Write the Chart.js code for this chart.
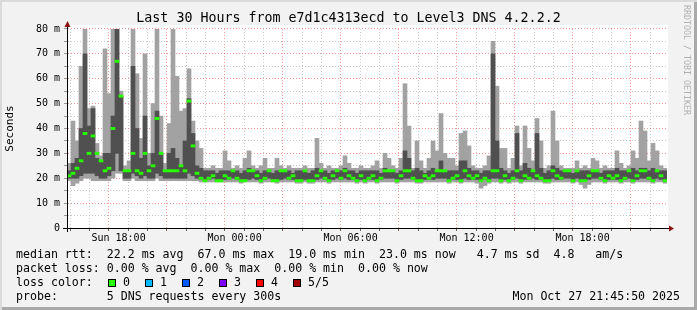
<!DOCTYPE html>
<html>
<head>
<meta charset="utf-8">
<script src="https://cdn.jsdelivr.net/npm/chart.js@4.4.1/dist/chart.umd.min.js"></script>
<style>
  html, body { margin: 0; padding: 0; background: #f2f2f2; }
  #frame {
    position: relative; width: 697px; height: 310px; overflow: hidden;
    background: #f2f2f2;
    box-shadow: inset 2px 2px 0 #dadada, inset -3px -3px 0 #a9a9a9;
    font-family: 'DejaVu Sans Mono', monospace; color: #000;
  }
  canvas { position: absolute; left: 0; top: 0; }
  .row { position: absolute; left: 16px; font-size: 11.6px; line-height: 14px; white-space: pre; }
  .box { position: absolute; top: 279px; width: 8px; height: 8px; box-sizing: border-box; border: 1px solid #000; }
  .lbl { position: absolute; top: 275px; font-size: 11.6px; line-height: 14px; white-space: pre; }
  #stamp { position: absolute; right: 17px; top: 289px; font-size: 11.6px; line-height: 14px; white-space: pre; }
  #mark { position: absolute; left: 682px; top: 5px; font-size: 8.3px; line-height: 10px; color: #b0b0b0;
          writing-mode: vertical-rl; white-space: pre; }
</style>
</head>
<body>
<div id="frame">
  <canvas id="chart" width="697" height="310"></canvas>
  <div id="mark">RRDTOOL / TOBI OETIKER</div>
  <div class="row" style="top:247px">median rtt:  22.2 ms avg  67.0 ms max  19.0 ms min  23.0 ms now   4.7 ms sd  4.8   am/s</div>
  <div class="row" style="top:261px">packet loss: 0.00 % avg  0.00 % max  0.00 % min  0.00 % now</div>
  <div class="row" style="top:275px">loss color:</div>
  <div class="row" style="top:289px">probe:       5 DNS requests every 300s</div>
  <div id="stamp">Mon Oct 27 21:45:50 2025</div>
</div>
<script>
// 12-minute slots over the last 30 hours (Sun 15:51 -> Mon 21:51), values in ms
const highPing = [
  26, 43, 35, 65, 80, 48, 49, 34, 29, 72,
  54, 80, 80, 55, 25, 27, 80, 62, 36, 70,
  30, 50, 80, 45, 26, 42, 80, 61, 47, 48,
  64, 43, 35, 32, 24, 24, 25, 24, 24, 31,
  27, 24, 25, 24, 28, 31, 25, 24, 25, 28,
  24, 24, 28, 25, 24, 25, 24, 24, 24, 25,
  24, 24, 36, 26, 24, 25, 24, 24, 25, 29,
  26, 24, 24, 25, 24, 24, 25, 27, 24, 30,
  28, 25, 24, 28, 58, 41, 24, 35, 27, 24,
  28, 35, 31, 46, 30, 28, 28, 25, 38, 39,
  33, 25, 24, 24, 25, 29, 75, 57, 32, 32,
  24, 28, 41, 25, 41, 32, 27, 44, 35, 24,
  25, 47, 35, 25, 24, 24, 24, 27, 24, 25,
  24, 28, 27, 24, 25, 24, 24, 31, 26, 24,
  25, 31, 28, 43, 39, 27, 34, 31, 25, 24
];
const highMid = [
  23, 26, 28, 40, 70, 41, 48, 28, 27, 30,
  30, 45, 80, 53, 23, 23, 65, 40, 28, 45,
  25, 30, 47, 30, 23, 30, 32, 28, 25, 35,
  52, 38, 25, 24, 23, 23, 23, 22, 23, 23,
  23, 23, 23, 22, 23, 24, 23, 23, 22, 23,
  23, 22, 23, 23, 23, 23, 22, 23, 23, 23,
  22, 23, 24, 23, 23, 22, 23, 23, 23, 24,
  23, 23, 22, 23, 23, 23, 23, 23, 22, 24,
  23, 23, 22, 23, 31, 28, 23, 24, 23, 22,
  23, 24, 23, 27, 23, 23, 23, 23, 27, 27,
  24, 23, 23, 22, 23, 23, 70, 35, 24, 23,
  22, 23, 38, 23, 26, 24, 23, 38, 24, 22,
  23, 25, 24, 23, 23, 23, 22, 23, 23, 23,
  23, 23, 23, 22, 23, 23, 23, 24, 23, 23,
  23, 24, 23, 24, 24, 23, 24, 23, 23, 23
];
const lowMid = [
  20, 20, 20, 21, 22, 22, 22, 21, 20, 20,
  21, 23, 30, 23, 20, 20, 22, 21, 20, 21,
  20, 20, 22, 21, 20, 20, 20, 20, 20, 20,
  22, 21, 20, 19.5, 19.5, 19.5, 20, 19.5, 19.5, 19.5,
  19.5, 20, 19.5, 19, 19.5, 19.5, 20, 19.5, 19, 19.5,
  20, 19.5, 19, 19.5, 20, 19.5, 19.5, 19, 19, 19.5,
  19, 19, 19.5, 20, 19.5, 19, 19.5, 20, 19.5, 20,
  19.5, 19.5, 19, 19.5, 19, 19.5, 19.5, 19, 19.5, 20,
  20, 20, 19, 19.5, 20, 20, 19.5, 19, 19, 19.5,
  19.5, 19.5, 20, 20, 20, 19, 19.5, 19.5, 19, 20,
  19.5, 19.5, 19.5, 19, 19.5, 19, 20, 20, 19, 19.5,
  19, 19.5, 20, 19, 19.5, 19.5, 20, 19.5, 19.5, 19,
  19, 20, 19.5, 19.5, 20, 20, 19, 20, 19, 19,
  19.5, 20, 20, 19.5, 19, 19.5, 19.5, 19.5, 19, 19.5,
  20, 19, 19.5, 20, 20, 19.5, 19, 20, 19.5, 19
];
const lowPing = [
  19, 17, 18, 19, 20, 20, 19, 19, 19, 19,
  19, 20, 22, 22, 19, 19, 20, 19, 19, 19,
  19, 19, 20, 19, 19, 19, 19, 19, 19, 19,
  19, 19, 19, 18.5, 18.5, 18.5, 18.5, 18.5, 18.5, 18.5,
  18.5, 18.5, 18.5, 18, 18.5, 18.5, 18.5, 18.5, 18, 18.5,
  18.5, 18.5, 18, 18.5, 18.5, 18.5, 18.5, 18, 18, 18.5,
  18, 18, 18.5, 18.5, 18.5, 18, 18.5, 18.5, 18.5, 18.5,
  18.5, 18.5, 18, 18.5, 18, 18.5, 18.5, 18, 18.5, 18.5,
  18.5, 18.5, 18, 18.5, 18.5, 18.5, 18.5, 18, 18, 18.5,
  18.5, 18.5, 18.5, 18.5, 18.5, 18, 18.5, 18.5, 18, 18.5,
  18.5, 18.5, 18, 16, 17, 18, 18.5, 18.5, 18, 18.5,
  18, 18.5, 18.5, 18, 18.5, 18.5, 18.5, 18.5, 18.5, 18,
  18, 18.5, 18.5, 18.5, 18.5, 18.5, 18, 18.5, 17.5, 16,
  17.5, 18.5, 18.5, 18.5, 18, 18.5, 18.5, 18.5, 18, 18.5,
  18.5, 18, 18.5, 18.5, 18.5, 18.5, 18, 18.5, 18.5, 18
];
const medianRtt = [
  21, 22, 24, 27, 38, 30, 37, 30, 27, 23,
  24, 40, 67, 53, 23, 23, 30, 23, 22, 30,
  23, 25, 44, 30, 23, 23, 23, 23, 25, 23,
  51, 33, 22, 20, 19, 20, 21, 19, 19, 21,
  20, 23, 20, 19, 19, 23, 23, 21, 19, 20,
  23, 19, 19, 23, 23, 20, 21, 19, 19, 23,
  19, 19, 21, 23, 20, 19, 21, 23, 20, 23,
  21, 20, 19, 21, 19, 20, 21, 19, 20, 23,
  23, 23, 19, 21, 23, 23, 20, 19, 19, 21,
  20, 21, 23, 23, 23, 19, 20, 21, 19, 23,
  21, 20, 21, 19, 20, 19, 23, 23, 19, 21,
  19, 20, 23, 19, 21, 20, 23, 21, 20, 19,
  19, 23, 21, 20, 23, 23, 19, 23, 19, 19,
  21, 23, 23, 20, 19, 21, 20, 21, 19, 20,
  23, 19, 21, 23, 23, 20, 19, 23, 21, 19
];
// time axis in hours since Sun 00:00
const timeStart = 15.85;
const timeEnd = 45.85;
const tickHours = [18, 24, 30, 36, 42];
const tickLabels = ['Sun 18:00', 'Mon 00:00', 'Mon 06:00', 'Mon 12:00', 'Mon 18:00'];
const lossLabels = ['0', '1', '2', '3', '4', '5/5'];
const lossColors = ['#26ff00', '#00b8ff', '#0059ff', '#7e00ff', '#ff0000', '#a10000'];

const slots = highPing.map((_, i) => i);
const majorGrid = 'rgba(240,120,120,0.75)';
const minorGrid = '#c8c8c8';

// loss colour legend
const frame = document.getElementById('frame');
lossLabels.forEach((t, i) => {
  const b = document.createElement('div');
  b.className = 'box';
  b.style.left = (108 + 37 * i) + 'px';
  b.style.background = lossColors[i];
  frame.appendChild(b);
  const l = document.createElement('div');
  l.className = 'lbl';
  l.style.left = (123 + 37 * i) + 'px';
  l.textContent = t;
  frame.appendChild(l);
});

const plotBackground = {
  id: 'plotBackground',
  beforeDraw(chart) {
    const { ctx, chartArea: a } = chart;
    ctx.save();
    ctx.fillStyle = '#fff';
    ctx.fillRect(a.left, a.top - 4, a.right - a.left + 1, a.bottom - a.top + 4);
    ctx.restore();
  }
};

const axisArrows = {
  id: 'axisArrows',
  afterDraw(chart) {
    const { ctx, chartArea: a } = chart;
    ctx.save();
    ctx.strokeStyle = '#000';
    ctx.lineWidth = 1;
    ctx.beginPath();
    ctx.moveTo(a.left - 4, a.bottom + 0.5);
    ctx.lineTo(a.right + 2, a.bottom + 0.5);
    ctx.moveTo(a.left + 0.5, a.top - 4);
    ctx.lineTo(a.left + 0.5, a.bottom + 4);
    ctx.stroke();
    ctx.fillStyle = '#8b1010';
    ctx.beginPath();
    ctx.moveTo(a.left + 0.5, a.top - 8);
    ctx.lineTo(a.left - 2.5, a.top - 2);
    ctx.lineTo(a.left + 3.5, a.top - 2);
    ctx.fill();
    ctx.beginPath();
    ctx.moveTo(a.right + 7, a.bottom + 0.5);
    ctx.lineTo(a.right + 2, a.bottom - 2.5);
    ctx.lineTo(a.right + 2, a.bottom + 3.5);
    ctx.fill();
    ctx.restore();
  }
};

Chart.defaults.font.family = "'DejaVu Sans Mono', monospace";
Chart.defaults.color = '#000';

new Chart(document.getElementById('chart'), {
  type: 'bar',
  data: {
    labels: slots,
    datasets: [
      {
        label: 'median rtt',
        data: medianRtt.map(v => [v - 0.45, v + 0.45]),
        backgroundColor: '#26ff00',
        order: 0, grouped: false
      },
      {
        label: 'inner smoke',
        data: lowMid.map((v, i) => [v, highMid[i]]),
        backgroundColor: '#505050',
        order: 1, grouped: false
      },
      {
        label: 'outer smoke',
        data: lowPing.map((v, i) => [v, highPing[i]]),
        backgroundColor: '#a2a2a2',
        order: 2, grouped: false
      }
    ]
  },
  options: {
    responsive: false,
    animation: false,
    devicePixelRatio: 1,
    layout: { padding: { left: 0, top: 0, right: 0, bottom: 62 } },
    datasets: { bar: { barPercentage: 1, categoryPercentage: 1, borderWidth: 0 } },
    plugins: {
      legend: { display: false },
      tooltip: { enabled: false },
      title: {
        display: true,
        text: 'Last 30 Hours from e7d1c4313ecd to Level3 DNS 4.2.2.2',
        font: { size: 13.3, weight: 'normal' },
        color: '#000',
        padding: { top: 11, bottom: 2 }
      }
    },
    scales: {
      x: { display: false, offset: true },
      xTime: {
        type: 'linear', position: 'bottom',
        min: timeStart, max: timeEnd,
        afterBuildTicks: s => {
          const t = [];
          for (let h = Math.ceil(timeStart); h <= timeEnd; h++) t.push({ value: h });
          s.ticks = t;
        },
        afterFit: s => { s.height = 20; },
        grid: {
          color: c => (c.tick && c.tick.value % 3 === 0) ? majorGrid : minorGrid,
          borderDash: [1, 2],
          tickLength: 3,
          tickColor: '#666'
        },
        border: { display: true, color: '#000', width: 1, dash: [1, 2] },
        ticks: {
          autoSkip: false, maxRotation: 0, padding: 1,
          font: { size: 10 },
          callback: v => {
            const k = tickHours.indexOf(v);
            return k >= 0 ? tickLabels[k] : '';
          }
        }
      },
      y: {
        min: 0, max: 80,
        afterFit: s => { s.width = 67; },
        grid: {
          color: c => (c.tick && c.tick.value % 10 === 0) ? majorGrid : minorGrid,
          borderDash: [1, 2],
          tickLength: 3,
          tickColor: '#999'
        },
        border: { display: true, color: '#000', width: 1, dash: [1, 2] },
        ticks: {
          stepSize: 5, autoSkip: false, padding: 4,
          font: { size: 10 },
          callback: v => v % 10 !== 0 ? '' : (v === 0 ? '0' : v + ' m')
        },
        title: {
          display: true, text: 'Seconds',
          font: { size: 11 },
          padding: { top: 4, bottom: 0 }
        }
      },
      yRight: {
        type: 'linear', position: 'right', min: 0, max: 80,
        afterFit: s => { s.width = 30; },
        grid: { display: false },
        border: { display: false },
        ticks: { display: false }
      }
    }
  },
  plugins: [plotBackground, axisArrows]
});
</script>
</body>
</html>
